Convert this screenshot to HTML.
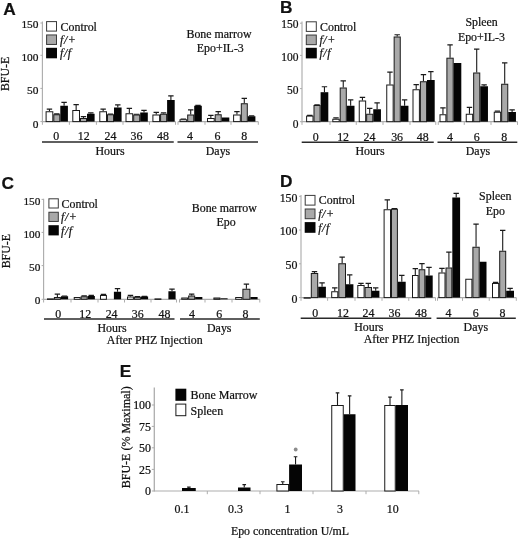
<!DOCTYPE html>
<html><head><meta charset="utf-8"><title>Figure</title>
<style>
html,body{margin:0;padding:0;background:#fff;}
body{width:520px;height:539px;overflow:hidden;}
svg{display:block;font-family:"Liberation Serif",serif;fill:#111;}
svg text{stroke:#111;stroke-width:0.22px;}
</style></head><body>
<svg width="520" height="539" viewBox="0 0 520 539">
<rect width="520" height="539" fill="#fff"/>
<g opacity="0.999">
<text x="3.2" y="14.5" font-family="Liberation Sans, sans-serif" font-weight="bold" font-size="17.3">A</text>
<line x1="42.4" x2="42.4" y1="21.4" y2="122.1" stroke="#adadad" stroke-width="1.15"/>
<line x1="40.4" x2="42.4" y1="23.0" y2="23.0" stroke="#adadad" stroke-width="1"/>
<text x="38.5" y="27.531932773109244" text-anchor="end" font-size="11.4" >150</text>
<line x1="40.4" x2="42.4" y1="55.3" y2="55.3" stroke="#adadad" stroke-width="1"/>
<text x="38.5" y="60.63193277310924" text-anchor="end" font-size="11.4" >100</text>
<line x1="40.4" x2="42.4" y1="88.4" y2="88.4" stroke="#adadad" stroke-width="1"/>
<text x="38.5" y="94.33193277310924" text-anchor="end" font-size="11.4" >50</text>
<line x1="40.4" x2="42.4" y1="121.6" y2="121.6" stroke="#adadad" stroke-width="1"/>
<text x="38.5" y="127.53193277310925" text-anchor="end" font-size="11.4" >0</text>
<line x1="42.4" x2="175.5" y1="121.6" y2="121.6" stroke="#adadad" stroke-width="1.2"/>
<line x1="178" x2="258.3" y1="121.6" y2="121.6" stroke="#adadad" stroke-width="1.2"/>
<line x1="42.4" x2="42.4" y1="121.6" y2="124.8" stroke="#adadad" stroke-width="1"/>
<line x1="69.4" x2="69.4" y1="121.6" y2="124.8" stroke="#adadad" stroke-width="1"/>
<line x1="96.4" x2="96.4" y1="121.6" y2="124.8" stroke="#adadad" stroke-width="1"/>
<line x1="123" x2="123" y1="121.6" y2="124.8" stroke="#adadad" stroke-width="1"/>
<line x1="149.5" x2="149.5" y1="121.6" y2="124.8" stroke="#adadad" stroke-width="1"/>
<line x1="175.5" x2="175.5" y1="121.6" y2="124.8" stroke="#adadad" stroke-width="1"/>
<line x1="178" x2="178" y1="121.6" y2="124.8" stroke="#adadad" stroke-width="1"/>
<line x1="205" x2="205" y1="121.6" y2="124.8" stroke="#adadad" stroke-width="1"/>
<line x1="231" x2="231" y1="121.6" y2="124.8" stroke="#adadad" stroke-width="1"/>
<line x1="258.3" x2="258.3" y1="121.6" y2="124.8" stroke="#adadad" stroke-width="1"/>
<rect x="46.1" y="111.75" width="6.700000000000003" height="9.849999999999994" fill="#fff" stroke="#1a1a1a" stroke-width="1"/>
<path d="M49.45 111.25V108.75M46.75 109.15H52.150000000000006" stroke="#1a1a1a" stroke-width="1.1" fill="none"/>
<rect x="53.800000000000004" y="114.75" width="6.0" height="6.849999999999994" fill="#a9a9a9" stroke="#1a1a1a" stroke-width="1"/>
<path d="M56.800000000000004 114.25V113.5M54.1 113.9H59.50000000000001" stroke="#1a1a1a" stroke-width="1.1" fill="none"/>
<rect x="60.300000000000004" y="105.75" width="7.600000000000001" height="15.849999999999994" fill="#050505"/>
<path d="M64.10000000000001 105.75V102M61.400000000000006 102.4H66.80000000000001" stroke="#1a1a1a" stroke-width="1.1" fill="none"/>
<rect x="72.8" y="110.5" width="6.700000000000003" height="11.099999999999994" fill="#fff" stroke="#1a1a1a" stroke-width="1"/>
<path d="M76.15 110V104.25M73.45 104.65H78.85000000000001" stroke="#1a1a1a" stroke-width="1.1" fill="none"/>
<rect x="80.5" y="118.5" width="6.0" height="3.0999999999999943" fill="#a9a9a9" stroke="#1a1a1a" stroke-width="1"/>
<path d="M83.5 118V116.25M80.8 116.65H86.2" stroke="#1a1a1a" stroke-width="1.1" fill="none"/>
<rect x="87.0" y="113.75" width="7.599999999999994" height="7.849999999999994" fill="#050505"/>
<path d="M90.8 113.75V112.5M88.1 112.9H93.5" stroke="#1a1a1a" stroke-width="1.1" fill="none"/>
<rect x="99.8" y="111.75" width="6.700000000000003" height="9.849999999999994" fill="#fff" stroke="#1a1a1a" stroke-width="1"/>
<path d="M103.15 111.25V108.75M100.45 109.15H105.85000000000001" stroke="#1a1a1a" stroke-width="1.1" fill="none"/>
<rect x="107.5" y="114.75" width="6.0" height="6.849999999999994" fill="#a9a9a9" stroke="#1a1a1a" stroke-width="1"/>
<path d="M110.5 114.25V113.6M107.8 114.0H113.2" stroke="#1a1a1a" stroke-width="1.1" fill="none"/>
<rect x="114.0" y="107.5" width="7.599999999999994" height="14.099999999999994" fill="#050505"/>
<path d="M117.8 107.5V104.5M115.1 104.9H120.5" stroke="#1a1a1a" stroke-width="1.1" fill="none"/>
<rect x="126.0" y="113.75" width="6.699999999999989" height="7.849999999999994" fill="#fff" stroke="#1a1a1a" stroke-width="1"/>
<path d="M129.35 113.25V108M126.64999999999999 108.4H132.04999999999998" stroke="#1a1a1a" stroke-width="1.1" fill="none"/>
<rect x="133.7" y="115.0" width="6.0" height="6.599999999999994" fill="#a9a9a9" stroke="#1a1a1a" stroke-width="1"/>
<path d="M136.7 114.5V113.8M134.0 114.2H139.39999999999998" stroke="#1a1a1a" stroke-width="1.1" fill="none"/>
<rect x="140.2" y="112.5" width="7.599999999999994" height="9.099999999999994" fill="#050505"/>
<path d="M144.0 112.5V110M141.3 110.4H146.7" stroke="#1a1a1a" stroke-width="1.1" fill="none"/>
<rect x="152.9" y="115.0" width="6.699999999999989" height="6.599999999999994" fill="#fff" stroke="#1a1a1a" stroke-width="1"/>
<path d="M156.25 114.5V112M153.55 112.4H158.95" stroke="#1a1a1a" stroke-width="1.1" fill="none"/>
<rect x="160.6" y="114.25" width="6.0" height="7.349999999999994" fill="#a9a9a9" stroke="#1a1a1a" stroke-width="1"/>
<path d="M163.6 113.75V112.5M160.9 112.9H166.29999999999998" stroke="#1a1a1a" stroke-width="1.1" fill="none"/>
<rect x="167.1" y="100" width="7.599999999999994" height="21.599999999999994" fill="#050505"/>
<path d="M170.89999999999998 100V95.5M168.2 95.9H173.59999999999997" stroke="#1a1a1a" stroke-width="1.1" fill="none"/>
<rect x="180.0" y="119.75" width="6.699999999999989" height="1.8499999999999943" fill="#fff" stroke="#1a1a1a" stroke-width="1"/>
<path d="M183.35 119.25V118.6M180.65 119.0H186.04999999999998" stroke="#1a1a1a" stroke-width="1.1" fill="none"/>
<rect x="187.7" y="115.0" width="6.0" height="6.599999999999994" fill="#a9a9a9" stroke="#1a1a1a" stroke-width="1"/>
<path d="M190.7 114.5V109.5M188.0 109.9H193.39999999999998" stroke="#1a1a1a" stroke-width="1.1" fill="none"/>
<rect x="194.2" y="105.75" width="7.599999999999994" height="15.849999999999994" fill="#050505"/>
<path d="M198.0 105.75V105M195.3 105.4H200.7" stroke="#1a1a1a" stroke-width="1.1" fill="none"/>
<rect x="207.5" y="118.5" width="6.699999999999989" height="3.0999999999999943" fill="#fff" stroke="#1a1a1a" stroke-width="1"/>
<path d="M210.85 118V115M208.15 115.4H213.54999999999998" stroke="#1a1a1a" stroke-width="1.1" fill="none"/>
<rect x="215.2" y="114.75" width="6.0" height="6.849999999999994" fill="#a9a9a9" stroke="#1a1a1a" stroke-width="1"/>
<path d="M218.2 114.25V111.25M215.5 111.65H220.89999999999998" stroke="#1a1a1a" stroke-width="1.1" fill="none"/>
<rect x="221.7" y="117.5" width="7.599999999999994" height="4.099999999999994" fill="#050505"/>
<rect x="233.6" y="115.0" width="6.699999999999989" height="6.599999999999994" fill="#fff" stroke="#1a1a1a" stroke-width="1"/>
<path d="M236.95 114.5V111.25M234.25 111.65H239.64999999999998" stroke="#1a1a1a" stroke-width="1.1" fill="none"/>
<rect x="241.29999999999998" y="103.75" width="6.0" height="17.849999999999994" fill="#a9a9a9" stroke="#1a1a1a" stroke-width="1"/>
<path d="M244.29999999999998 103.25V98M241.6 98.4H246.99999999999997" stroke="#1a1a1a" stroke-width="1.1" fill="none"/>
<rect x="247.79999999999998" y="116.25" width="7.599999999999994" height="5.349999999999994" fill="#050505"/>
<path d="M251.59999999999997 116.25V115.5M248.89999999999998 115.9H254.29999999999995" stroke="#1a1a1a" stroke-width="1.1" fill="none"/>
<text x="56.3" y="140.4" text-anchor="middle" font-size="11.9" >0</text>
<text x="83.7" y="140.4" text-anchor="middle" font-size="11.9" >12</text>
<text x="110.5" y="140.4" text-anchor="middle" font-size="11.9" >24</text>
<text x="136.5" y="140.4" text-anchor="middle" font-size="11.9" >36</text>
<text x="163" y="140.4" text-anchor="middle" font-size="11.9" >48</text>
<text x="190.1" y="140.4" text-anchor="middle" font-size="11.9" >4</text>
<text x="217.6" y="140.4" text-anchor="middle" font-size="11.9" >6</text>
<text x="244.2" y="140.4" text-anchor="middle" font-size="11.9" >8</text>
<line x1="42" x2="173.75" y1="141.9" y2="141.9" stroke="#2a2a2a" stroke-width="1.5"/>
<line x1="177.5" x2="258" y1="141.9" y2="141.9" stroke="#2a2a2a" stroke-width="1.5"/>
<text x="110" y="154.5" text-anchor="middle" font-size="11.9" >Hours</text>
<text x="218" y="154.5" text-anchor="middle" font-size="11.9" >Days</text>
<rect x="46.6" y="21.6" width="9.9" height="9.5" fill="#fff" stroke="#3a3a3a" stroke-width="1"/>
<text x="60.6" y="30.55" text-anchor="start" font-size="11.9" >Control</text>
<rect x="46.6" y="34.95" width="9.9" height="9.5" fill="#a9a9a9" stroke="#3a3a3a" stroke-width="1"/>
<text x="60.6" y="43.900000000000006" text-anchor="start" font-size="11.9" ><tspan font-style='italic' letter-spacing='0.6' dx='-0.6'>f/+</tspan></text>
<rect x="46.1" y="47.8" width="10.9" height="10.5" fill="#050505"/>
<text x="60.6" y="57.25" text-anchor="start" font-size="11.9" ><tspan font-style='italic' letter-spacing='0.6' dx='-0.6'>f/f</tspan></text>
<text x="219" y="38.3" text-anchor="middle" font-size="11.9" >Bone marrow</text>
<text x="220.3" y="52.1" text-anchor="middle" font-size="11.9" >Epo+IL-3</text>
<text transform="translate(9.2,73.9) rotate(-90)" text-anchor="middle" font-size="11.9">BFU-E</text>
<text x="279.9" y="13.1" font-family="Liberation Sans, sans-serif" font-weight="bold" font-size="17.3">B</text>
<line x1="302" x2="302" y1="21.4" y2="122.2" stroke="#adadad" stroke-width="1.15"/>
<line x1="300" x2="302" y1="23.2" y2="23.2" stroke="#adadad" stroke-width="1"/>
<text x="298.4" y="28.065546218487395" text-anchor="end" font-size="11.5" >150</text>
<line x1="300" x2="302" y1="55.4" y2="55.4" stroke="#adadad" stroke-width="1"/>
<text x="298.4" y="60.5655462184874" text-anchor="end" font-size="11.5" >100</text>
<line x1="300" x2="302" y1="88.6" y2="88.6" stroke="#adadad" stroke-width="1"/>
<text x="298.4" y="94.3655462184874" text-anchor="end" font-size="11.5" >50</text>
<line x1="300" x2="302" y1="121.7" y2="121.7" stroke="#adadad" stroke-width="1"/>
<text x="298.4" y="127.5655462184874" text-anchor="end" font-size="11.5" >0</text>
<line x1="302" x2="435.75" y1="121.7" y2="121.7" stroke="#adadad" stroke-width="1.2"/>
<line x1="438.25" x2="517.5" y1="121.7" y2="121.7" stroke="#adadad" stroke-width="1.2"/>
<line x1="302" x2="302" y1="121.7" y2="124.9" stroke="#adadad" stroke-width="1"/>
<line x1="330" x2="330" y1="121.7" y2="124.9" stroke="#adadad" stroke-width="1"/>
<line x1="356.25" x2="356.25" y1="121.7" y2="124.9" stroke="#adadad" stroke-width="1"/>
<line x1="383" x2="383" y1="121.7" y2="124.9" stroke="#adadad" stroke-width="1"/>
<line x1="410" x2="410" y1="121.7" y2="124.9" stroke="#adadad" stroke-width="1"/>
<line x1="435.75" x2="435.75" y1="121.7" y2="124.9" stroke="#adadad" stroke-width="1"/>
<line x1="438.25" x2="438.25" y1="121.7" y2="124.9" stroke="#adadad" stroke-width="1"/>
<line x1="464.25" x2="464.25" y1="121.7" y2="124.9" stroke="#adadad" stroke-width="1"/>
<line x1="491" x2="491" y1="121.7" y2="124.9" stroke="#adadad" stroke-width="1"/>
<line x1="517.5" x2="517.5" y1="121.7" y2="124.9" stroke="#adadad" stroke-width="1"/>
<rect x="306.6" y="116.1" width="6.399999999999977" height="5.6000000000000085" fill="#fff" stroke="#1a1a1a" stroke-width="1"/>
<path d="M309.8 115.6V115.0M307.1 115.4H312.5" stroke="#1a1a1a" stroke-width="1.1" fill="none"/>
<rect x="314.0" y="105.5" width="6.100000000000023" height="16.200000000000003" fill="#a9a9a9" stroke="#1a1a1a" stroke-width="1"/>
<path d="M317.05 105V104.4M314.35 104.80000000000001H319.75" stroke="#1a1a1a" stroke-width="1.1" fill="none"/>
<rect x="320.6" y="92.2" width="7.699999999999989" height="29.5" fill="#050505"/>
<path d="M324.45000000000005 92.2V86.4M321.75000000000006 86.80000000000001H327.15000000000003" stroke="#1a1a1a" stroke-width="1.1" fill="none"/>
<rect x="332.8" y="119.25" width="6.399999999999977" height="2.450000000000003" fill="#fff" stroke="#1a1a1a" stroke-width="1"/>
<path d="M336.0 118.75V117.5M333.3 117.9H338.7" stroke="#1a1a1a" stroke-width="1.1" fill="none"/>
<rect x="340.2" y="88.0" width="6.100000000000023" height="33.7" fill="#a9a9a9" stroke="#1a1a1a" stroke-width="1"/>
<path d="M343.25 87.5V80.5M340.55 80.9H345.95" stroke="#1a1a1a" stroke-width="1.1" fill="none"/>
<rect x="346.8" y="105.75" width="7.699999999999989" height="15.950000000000003" fill="#050505"/>
<path d="M350.65 105.75V99.5M347.95 99.9H353.34999999999997" stroke="#1a1a1a" stroke-width="1.1" fill="none"/>
<rect x="359.25" y="101.0" width="6.399999999999977" height="20.700000000000003" fill="#fff" stroke="#1a1a1a" stroke-width="1"/>
<path d="M362.45 100.5V97M359.75 97.4H365.15" stroke="#1a1a1a" stroke-width="1.1" fill="none"/>
<rect x="366.65" y="114.25" width="6.100000000000023" height="7.450000000000003" fill="#a9a9a9" stroke="#1a1a1a" stroke-width="1"/>
<path d="M369.7 113.75V108M367.0 108.4H372.4" stroke="#1a1a1a" stroke-width="1.1" fill="none"/>
<rect x="373.25" y="109.25" width="7.699999999999989" height="12.450000000000003" fill="#050505"/>
<path d="M377.1 109.25V102.5M374.40000000000003 102.9H379.8" stroke="#1a1a1a" stroke-width="1.1" fill="none"/>
<rect x="386.75" y="85.0" width="6.399999999999977" height="36.7" fill="#fff" stroke="#1a1a1a" stroke-width="1"/>
<path d="M389.95 84.5V71.75M387.25 72.15H392.65" stroke="#1a1a1a" stroke-width="1.1" fill="none"/>
<rect x="394.15" y="37.0" width="6.100000000000023" height="84.7" fill="#a9a9a9" stroke="#1a1a1a" stroke-width="1"/>
<path d="M397.2 36.5V34.3M394.5 34.699999999999996H399.9" stroke="#1a1a1a" stroke-width="1.1" fill="none"/>
<rect x="400.75" y="105.75" width="7.699999999999989" height="15.950000000000003" fill="#050505"/>
<path d="M404.6 105.75V99.5M401.90000000000003 99.9H407.3" stroke="#1a1a1a" stroke-width="1.1" fill="none"/>
<rect x="413.0" y="89.75" width="6.399999999999977" height="31.950000000000003" fill="#fff" stroke="#1a1a1a" stroke-width="1"/>
<path d="M416.2 89.25V84.25M413.5 84.65H418.9" stroke="#1a1a1a" stroke-width="1.1" fill="none"/>
<rect x="420.4" y="81.75" width="6.100000000000023" height="39.95" fill="#a9a9a9" stroke="#1a1a1a" stroke-width="1"/>
<path d="M423.45 81.25V74.25M420.75 74.65H426.15" stroke="#1a1a1a" stroke-width="1.1" fill="none"/>
<rect x="427.0" y="80" width="7.699999999999989" height="41.7" fill="#050505"/>
<path d="M430.85 80V71.25M428.15000000000003 71.65H433.55" stroke="#1a1a1a" stroke-width="1.1" fill="none"/>
<rect x="440.0" y="114.75" width="5.899999999999977" height="6.950000000000003" fill="#fff" stroke="#1a1a1a" stroke-width="1"/>
<path d="M442.95 114.25V107.5M440.25 107.9H445.65" stroke="#1a1a1a" stroke-width="1.1" fill="none"/>
<rect x="446.9" y="58.2" width="6.300000000000011" height="63.5" fill="#a9a9a9" stroke="#1a1a1a" stroke-width="1"/>
<path d="M450.04999999999995 57.7V44.5M447.34999999999997 44.9H452.74999999999994" stroke="#1a1a1a" stroke-width="1.1" fill="none"/>
<rect x="453.7" y="63" width="7.600000000000023" height="58.7" fill="#050505"/>
<rect x="466.25" y="114.25" width="6.399999999999977" height="7.450000000000003" fill="#fff" stroke="#1a1a1a" stroke-width="1"/>
<path d="M469.45 113.75V107M466.75 107.4H472.15" stroke="#1a1a1a" stroke-width="1.1" fill="none"/>
<rect x="473.65" y="73.0" width="6.100000000000023" height="48.7" fill="#a9a9a9" stroke="#1a1a1a" stroke-width="1"/>
<path d="M476.7 72.5V48.75M474.0 49.15H479.4" stroke="#1a1a1a" stroke-width="1.1" fill="none"/>
<rect x="480.25" y="86.25" width="7.699999999999989" height="35.45" fill="#050505"/>
<path d="M484.1 86.25V84.5M481.40000000000003 84.9H486.8" stroke="#1a1a1a" stroke-width="1.1" fill="none"/>
<rect x="494.25" y="112.25" width="6.399999999999977" height="9.450000000000003" fill="#fff" stroke="#1a1a1a" stroke-width="1"/>
<path d="M497.45 111.75V110.75M494.75 111.15H500.15" stroke="#1a1a1a" stroke-width="1.1" fill="none"/>
<rect x="501.65" y="84.25" width="6.100000000000023" height="37.45" fill="#a9a9a9" stroke="#1a1a1a" stroke-width="1"/>
<path d="M504.7 83.75V62.5M502.0 62.9H507.4" stroke="#1a1a1a" stroke-width="1.1" fill="none"/>
<rect x="508.25" y="112" width="7.7000000000000455" height="9.700000000000003" fill="#050505"/>
<path d="M512.1 112V109.5M509.40000000000003 109.9H514.8000000000001" stroke="#1a1a1a" stroke-width="1.1" fill="none"/>
<text x="315.7" y="140.8" text-anchor="middle" font-size="11.9" >0</text>
<text x="343.1" y="140.8" text-anchor="middle" font-size="11.9" >12</text>
<text x="369.5" y="140.8" text-anchor="middle" font-size="11.9" >24</text>
<text x="397.1" y="140.8" text-anchor="middle" font-size="11.9" >36</text>
<text x="422.7" y="140.8" text-anchor="middle" font-size="11.9" >48</text>
<text x="450" y="140.8" text-anchor="middle" font-size="11.9" >4</text>
<text x="476.8" y="140.8" text-anchor="middle" font-size="11.9" >6</text>
<text x="504.2" y="140.8" text-anchor="middle" font-size="11.9" >8</text>
<line x1="301.7" x2="433.75" y1="142.2" y2="142.2" stroke="#2a2a2a" stroke-width="1.5"/>
<line x1="437.5" x2="517.3" y1="142.2" y2="142.2" stroke="#2a2a2a" stroke-width="1.5"/>
<text x="370" y="155" text-anchor="middle" font-size="11.9" >Hours</text>
<text x="478" y="155" text-anchor="middle" font-size="11.9" >Days</text>
<rect x="306.3" y="21.8" width="10.0" height="9.6" fill="#fff" stroke="#3a3a3a" stroke-width="1"/>
<text x="320" y="30.8" text-anchor="start" font-size="11.9" >Control</text>
<rect x="306.3" y="35.05" width="10.0" height="9.6" fill="#a9a9a9" stroke="#3a3a3a" stroke-width="1"/>
<text x="320" y="44.05" text-anchor="start" font-size="11.9" ><tspan font-style='italic' letter-spacing='0.6' dx='-0.6'>f/+</tspan></text>
<rect x="305.8" y="47.8" width="11.0" height="10.6" fill="#050505"/>
<text x="320" y="57.3" text-anchor="start" font-size="11.9" ><tspan font-style='italic' letter-spacing='0.6' dx='-0.6'>f/f</tspan></text>
<text x="481.6" y="25.7" text-anchor="middle" font-size="11.9" >Spleen</text>
<text x="481.4" y="40.5" text-anchor="middle" font-size="11.9" >Epo+IL-3</text>
<text transform="translate(-100,-100) rotate(-90)" text-anchor="middle" font-size="11.9">BFU-E</text>
<text x="1.6" y="188.6" font-family="Liberation Sans, sans-serif" font-weight="bold" font-size="17.3">C</text>
<line x1="43.6" x2="43.6" y1="198.7" y2="299.8" stroke="#adadad" stroke-width="1.15"/>
<line x1="41.6" x2="43.6" y1="199.4" y2="199.4" stroke="#adadad" stroke-width="1"/>
<text x="40.4" y="204.5983193277311" text-anchor="end" font-size="11.3" >150</text>
<line x1="41.6" x2="43.6" y1="232.4" y2="232.4" stroke="#adadad" stroke-width="1"/>
<text x="40.4" y="237.7983193277311" text-anchor="end" font-size="11.3" >100</text>
<line x1="41.6" x2="43.6" y1="265.6" y2="265.6" stroke="#adadad" stroke-width="1"/>
<text x="40.4" y="271.19831932773104" text-anchor="end" font-size="11.3" >50</text>
<line x1="41.6" x2="43.6" y1="299.3" y2="299.3" stroke="#adadad" stroke-width="1"/>
<text x="40.4" y="304.49831932773105" text-anchor="end" font-size="11.3" >0</text>
<line x1="43.6" x2="176.5" y1="299.3" y2="299.3" stroke="#adadad" stroke-width="1.2"/>
<line x1="179.5" x2="259.8" y1="299.3" y2="299.3" stroke="#adadad" stroke-width="1.2"/>
<line x1="43.6" x2="43.6" y1="299.3" y2="302.5" stroke="#adadad" stroke-width="1"/>
<line x1="71" x2="71" y1="299.3" y2="302.5" stroke="#adadad" stroke-width="1"/>
<line x1="98" x2="98" y1="299.3" y2="302.5" stroke="#adadad" stroke-width="1"/>
<line x1="124.5" x2="124.5" y1="299.3" y2="302.5" stroke="#adadad" stroke-width="1"/>
<line x1="151" x2="151" y1="299.3" y2="302.5" stroke="#adadad" stroke-width="1"/>
<line x1="176.5" x2="176.5" y1="299.3" y2="302.5" stroke="#adadad" stroke-width="1"/>
<line x1="179.5" x2="179.5" y1="299.3" y2="302.5" stroke="#adadad" stroke-width="1"/>
<line x1="205" x2="205" y1="299.3" y2="302.5" stroke="#adadad" stroke-width="1"/>
<line x1="232" x2="232" y1="299.3" y2="302.5" stroke="#adadad" stroke-width="1"/>
<line x1="259.8" x2="259.8" y1="299.3" y2="302.5" stroke="#adadad" stroke-width="1"/>
<rect x="47.5" y="298.9" width="5.899999999999999" height="0.5" fill="#fff" stroke="#1a1a1a" stroke-width="1"/>
<rect x="54.4" y="297.5" width="6.0" height="1.8000000000000114" fill="#a9a9a9" stroke="#1a1a1a" stroke-width="1"/>
<path d="M57.4 297V293.75M54.699999999999996 294.15H60.1" stroke="#1a1a1a" stroke-width="1.1" fill="none"/>
<rect x="60.9" y="296.25" width="7.199999999999996" height="3.0500000000000114" fill="#050505"/>
<path d="M64.5 296.25V295.6M61.8 296.0H67.2" stroke="#1a1a1a" stroke-width="1.1" fill="none"/>
<rect x="74.25" y="297.5" width="5.900000000000006" height="1.8000000000000114" fill="#fff" stroke="#1a1a1a" stroke-width="1"/>
<rect x="81.15" y="296.75" width="6.0" height="2.5500000000000114" fill="#a9a9a9" stroke="#1a1a1a" stroke-width="1"/>
<path d="M84.15 296.25V295.3M81.45 295.7H86.85000000000001" stroke="#1a1a1a" stroke-width="1.1" fill="none"/>
<rect x="87.65" y="296" width="7.200000000000003" height="3.3000000000000114" fill="#050505"/>
<path d="M91.25 296V295M88.55 295.4H93.95" stroke="#1a1a1a" stroke-width="1.1" fill="none"/>
<rect x="100.5" y="295.5" width="5.900000000000006" height="3.8000000000000114" fill="#fff" stroke="#1a1a1a" stroke-width="1"/>
<path d="M103.45 295V294M100.75 294.4H106.15" stroke="#1a1a1a" stroke-width="1.1" fill="none"/>
<rect x="113.9" y="291.75" width="7.200000000000003" height="7.550000000000011" fill="#050505"/>
<path d="M117.5 291.75V288.25M114.8 288.65H120.2" stroke="#1a1a1a" stroke-width="1.1" fill="none"/>
<rect x="127.5" y="297.0" width="5.900000000000006" height="2.3000000000000114" fill="#fff" stroke="#1a1a1a" stroke-width="1"/>
<path d="M130.45 296.5V295M127.74999999999999 295.4H133.14999999999998" stroke="#1a1a1a" stroke-width="1.1" fill="none"/>
<rect x="134.4" y="297.25" width="6.0" height="2.0500000000000114" fill="#a9a9a9" stroke="#1a1a1a" stroke-width="1"/>
<path d="M137.4 296.75V296.2M134.70000000000002 296.59999999999997H140.1" stroke="#1a1a1a" stroke-width="1.1" fill="none"/>
<rect x="140.9" y="296.5" width="7.199999999999989" height="2.8000000000000114" fill="#050505"/>
<path d="M144.5 296.5V296M141.8 296.4H147.2" stroke="#1a1a1a" stroke-width="1.1" fill="none"/>
<rect x="155.0" y="298.9" width="5.900000000000006" height="0.5" fill="#fff" stroke="#1a1a1a" stroke-width="1"/>
<rect x="168.4" y="291.25" width="7.199999999999989" height="8.050000000000011" fill="#050505"/>
<path d="M172.0 291.25V288.75M169.3 289.15H174.7" stroke="#1a1a1a" stroke-width="1.1" fill="none"/>
<rect x="181.75" y="298.0" width="5.900000000000006" height="1.3000000000000114" fill="#fff" stroke="#1a1a1a" stroke-width="1"/>
<rect x="188.65" y="296.0" width="6.0" height="3.3000000000000114" fill="#a9a9a9" stroke="#1a1a1a" stroke-width="1"/>
<path d="M191.65 295.5V293.75M188.95000000000002 294.15H194.35" stroke="#1a1a1a" stroke-width="1.1" fill="none"/>
<rect x="195.15" y="297" width="7.199999999999989" height="2.3000000000000114" fill="#050505"/>
<rect x="213.9" y="298.0" width="6.0" height="1.3000000000000114" fill="#a9a9a9" stroke="#1a1a1a" stroke-width="1"/>
<rect x="220.4" y="298.3" width="7.199999999999989" height="1.0" fill="#050505"/>
<rect x="235.7" y="297.5" width="6.200000000000017" height="1.8000000000000114" fill="#fff" stroke="#1a1a1a" stroke-width="1"/>
<rect x="242.9" y="289.25" width="7.0" height="10.050000000000011" fill="#a9a9a9" stroke="#1a1a1a" stroke-width="1"/>
<path d="M246.4 288.75V283.75M243.70000000000002 284.15H249.1" stroke="#1a1a1a" stroke-width="1.1" fill="none"/>
<rect x="250.4" y="297" width="7.200000000000017" height="2.3000000000000114" fill="#050505"/>
<text x="58.3" y="317.6" text-anchor="middle" font-size="11.9" >0</text>
<text x="85.2" y="317.6" text-anchor="middle" font-size="11.9" >12</text>
<text x="111.6" y="317.6" text-anchor="middle" font-size="11.9" >24</text>
<text x="137.7" y="317.6" text-anchor="middle" font-size="11.9" >36</text>
<text x="164.5" y="317.6" text-anchor="middle" font-size="11.9" >48</text>
<text x="192" y="317.6" text-anchor="middle" font-size="11.9" >4</text>
<text x="219.25" y="317.6" text-anchor="middle" font-size="11.9" >6</text>
<text x="245.5" y="317.6" text-anchor="middle" font-size="11.9" >8</text>
<line x1="44" x2="174.5" y1="319.0" y2="319.0" stroke="#2a2a2a" stroke-width="1.5"/>
<line x1="180" x2="259.8" y1="319.0" y2="319.0" stroke="#2a2a2a" stroke-width="1.5"/>
<text x="112" y="331.5" text-anchor="middle" font-size="11.9" >Hours</text>
<text x="219.25" y="331.5" text-anchor="middle" font-size="11.9" >Days</text>
<text x="154.75" y="344.1" text-anchor="middle" font-size="11.9" >After PHZ Injection</text>
<rect x="48.9" y="198.8" width="9.4" height="9.2" fill="#fff" stroke="#3a3a3a" stroke-width="1"/>
<text x="61.6" y="207.6" text-anchor="start" font-size="11.9" >Control</text>
<rect x="48.9" y="212.25" width="9.4" height="9.2" fill="#a9a9a9" stroke="#3a3a3a" stroke-width="1"/>
<text x="61.6" y="221.04999999999998" text-anchor="start" font-size="11.9" ><tspan font-style='italic' letter-spacing='0.6' dx='-0.6'>f/+</tspan></text>
<rect x="48.4" y="225.20000000000002" width="10.4" height="10.2" fill="#050505"/>
<text x="61.6" y="234.5" text-anchor="start" font-size="11.9" ><tspan font-style='italic' letter-spacing='0.6' dx='-0.6'>f/f</tspan></text>
<text x="224.3" y="211.7" text-anchor="middle" font-size="11.9" >Bone marrow</text>
<text x="226.2" y="226.1" text-anchor="middle" font-size="11.9" >Epo</text>
<text transform="translate(9.5,251.2) rotate(-90)" text-anchor="middle" font-size="11.9">BFU-E</text>
<text x="280.1" y="187.3" font-family="Liberation Sans, sans-serif" font-weight="bold" font-size="17.3">D</text>
<line x1="301" x2="301" y1="195" y2="298.1" stroke="#adadad" stroke-width="1.15"/>
<line x1="299" x2="301" y1="196.3" y2="196.3" stroke="#adadad" stroke-width="1"/>
<text x="297.5" y="201.5" text-anchor="end" font-size="11.9" >150</text>
<line x1="299" x2="301" y1="230" y2="230" stroke="#adadad" stroke-width="1"/>
<text x="297.5" y="235.2" text-anchor="end" font-size="11.9" >100</text>
<line x1="299" x2="301" y1="263.8" y2="263.8" stroke="#adadad" stroke-width="1"/>
<text x="297.5" y="269.3" text-anchor="end" font-size="11.9" >50</text>
<line x1="299" x2="301" y1="297.6" y2="297.6" stroke="#adadad" stroke-width="1"/>
<text x="297.5" y="303.0" text-anchor="end" font-size="11.9" >0</text>
<line x1="301" x2="435.5" y1="297.6" y2="297.6" stroke="#adadad" stroke-width="1.2"/>
<line x1="437.5" x2="516.3" y1="297.6" y2="297.6" stroke="#adadad" stroke-width="1.2"/>
<line x1="301" x2="301" y1="297.6" y2="300.8" stroke="#adadad" stroke-width="1"/>
<line x1="327.6" x2="327.6" y1="297.6" y2="300.8" stroke="#adadad" stroke-width="1"/>
<line x1="355" x2="355" y1="297.6" y2="300.8" stroke="#adadad" stroke-width="1"/>
<line x1="382" x2="382" y1="297.6" y2="300.8" stroke="#adadad" stroke-width="1"/>
<line x1="408.75" x2="408.75" y1="297.6" y2="300.8" stroke="#adadad" stroke-width="1"/>
<line x1="435.5" x2="435.5" y1="297.6" y2="300.8" stroke="#adadad" stroke-width="1"/>
<line x1="437.5" x2="437.5" y1="297.6" y2="300.8" stroke="#adadad" stroke-width="1"/>
<line x1="462.5" x2="462.5" y1="297.6" y2="300.8" stroke="#adadad" stroke-width="1"/>
<line x1="489.25" x2="489.25" y1="297.6" y2="300.8" stroke="#adadad" stroke-width="1"/>
<line x1="516.3" x2="516.3" y1="297.6" y2="300.8" stroke="#adadad" stroke-width="1"/>
<rect x="304.1" y="297.7" width="6.199999999999989" height="0.5" fill="#fff" stroke="#1a1a1a" stroke-width="1"/>
<rect x="311.3" y="273.5" width="6.399999999999977" height="24.100000000000023" fill="#a9a9a9" stroke="#1a1a1a" stroke-width="1"/>
<path d="M314.5 273V271.25M311.8 271.65H317.2" stroke="#1a1a1a" stroke-width="1.1" fill="none"/>
<rect x="318.2" y="286.75" width="7.699999999999989" height="10.850000000000023" fill="#050505"/>
<path d="M322.04999999999995 286.75V282.5M319.34999999999997 282.9H324.74999999999994" stroke="#1a1a1a" stroke-width="1.1" fill="none"/>
<rect x="331.7" y="291.75" width="6.100000000000023" height="5.850000000000023" fill="#fff" stroke="#1a1a1a" stroke-width="1"/>
<path d="M334.75 291.25V287.5M332.05 287.9H337.45" stroke="#1a1a1a" stroke-width="1.1" fill="none"/>
<rect x="338.8" y="263.75" width="6.699999999999989" height="33.85000000000002" fill="#a9a9a9" stroke="#1a1a1a" stroke-width="1"/>
<path d="M342.15 263.25V256.75M339.45 257.15H344.84999999999997" stroke="#1a1a1a" stroke-width="1.1" fill="none"/>
<rect x="346" y="284.25" width="7.399999999999977" height="13.350000000000023" fill="#050505"/>
<path d="M349.7 284.25V274.5M347.0 274.9H352.4" stroke="#1a1a1a" stroke-width="1.1" fill="none"/>
<rect x="357.8" y="285.5" width="6.300000000000011" height="12.100000000000023" fill="#fff" stroke="#1a1a1a" stroke-width="1"/>
<path d="M360.95000000000005 285V283M358.25000000000006 283.4H363.65000000000003" stroke="#1a1a1a" stroke-width="1.1" fill="none"/>
<rect x="365.1" y="287.5" width="6.399999999999977" height="10.100000000000023" fill="#a9a9a9" stroke="#1a1a1a" stroke-width="1"/>
<path d="M368.3 287V283M365.6 283.4H371.0" stroke="#1a1a1a" stroke-width="1.1" fill="none"/>
<rect x="372" y="290.75" width="7.399999999999977" height="6.850000000000023" fill="#050505"/>
<path d="M375.7 290.75V287.5M373.0 287.9H378.4" stroke="#1a1a1a" stroke-width="1.1" fill="none"/>
<rect x="384.1" y="209.75" width="6.399999999999977" height="87.85000000000002" fill="#fff" stroke="#1a1a1a" stroke-width="1"/>
<path d="M387.3 209.25V199.5M384.6 199.9H390.0" stroke="#1a1a1a" stroke-width="1.1" fill="none"/>
<rect x="391.5" y="209.25" width="5.899999999999977" height="88.35000000000002" fill="#a9a9a9" stroke="#1a1a1a" stroke-width="1"/>
<path d="M394.45 208.75V208.2M391.75 208.6H397.15" stroke="#1a1a1a" stroke-width="1.1" fill="none"/>
<rect x="397.9" y="281.75" width="7.800000000000011" height="15.850000000000023" fill="#050505"/>
<path d="M401.79999999999995 281.75V275M399.09999999999997 275.4H404.49999999999994" stroke="#1a1a1a" stroke-width="1.1" fill="none"/>
<rect x="412.5" y="275.5" width="5.600000000000023" height="22.100000000000023" fill="#fff" stroke="#1a1a1a" stroke-width="1"/>
<path d="M415.3 275V268.25M412.6 268.65H418.0" stroke="#1a1a1a" stroke-width="1.1" fill="none"/>
<rect x="419.1" y="269.75" width="5.699999999999989" height="27.850000000000023" fill="#a9a9a9" stroke="#1a1a1a" stroke-width="1"/>
<path d="M421.95000000000005 269.25V263.25M419.25000000000006 263.65H424.65000000000003" stroke="#1a1a1a" stroke-width="1.1" fill="none"/>
<rect x="425.3" y="275.5" width="7.399999999999977" height="22.100000000000023" fill="#050505"/>
<path d="M429.0 275.5V267M426.3 267.4H431.7" stroke="#1a1a1a" stroke-width="1.1" fill="none"/>
<rect x="438.9" y="273.0" width="6.100000000000023" height="24.600000000000023" fill="#fff" stroke="#1a1a1a" stroke-width="1"/>
<path d="M441.95 272.5V268M439.25 268.4H444.65" stroke="#1a1a1a" stroke-width="1.1" fill="none"/>
<rect x="446.0" y="268.0" width="5.800000000000011" height="29.600000000000023" fill="#a9a9a9" stroke="#1a1a1a" stroke-width="1"/>
<path d="M448.9 267.5V251.75M446.2 252.15H451.59999999999997" stroke="#1a1a1a" stroke-width="1.1" fill="none"/>
<rect x="452.3" y="197.5" width="7.800000000000011" height="100.10000000000002" fill="#050505"/>
<path d="M456.20000000000005 197.5V193M453.50000000000006 193.4H458.90000000000003" stroke="#1a1a1a" stroke-width="1.1" fill="none"/>
<rect x="465.8" y="279.25" width="6.099999999999966" height="18.350000000000023" fill="#fff" stroke="#1a1a1a" stroke-width="1"/>
<rect x="472.9" y="247.25" width="6.300000000000011" height="50.35000000000002" fill="#a9a9a9" stroke="#1a1a1a" stroke-width="1"/>
<path d="M476.04999999999995 246.75V223.75M473.34999999999997 224.15H478.74999999999994" stroke="#1a1a1a" stroke-width="1.1" fill="none"/>
<rect x="479.7" y="261.75" width="6.800000000000011" height="35.85000000000002" fill="#050505"/>
<rect x="492.5" y="283.5" width="6.199999999999989" height="14.100000000000023" fill="#fff" stroke="#1a1a1a" stroke-width="1"/>
<path d="M495.6 283V282M492.90000000000003 282.4H498.3" stroke="#1a1a1a" stroke-width="1.1" fill="none"/>
<rect x="499.7" y="251.25" width="6.0" height="46.35000000000002" fill="#a9a9a9" stroke="#1a1a1a" stroke-width="1"/>
<path d="M502.7 250.75V230M500.0 230.4H505.4" stroke="#1a1a1a" stroke-width="1.1" fill="none"/>
<rect x="506.2" y="290.75" width="7.800000000000011" height="6.850000000000023" fill="#050505"/>
<path d="M510.1 290.75V288M507.40000000000003 288.4H512.8000000000001" stroke="#1a1a1a" stroke-width="1.1" fill="none"/>
<text x="315.2" y="316.7" text-anchor="middle" font-size="11.9" >0</text>
<text x="343" y="316.7" text-anchor="middle" font-size="11.9" >12</text>
<text x="368.5" y="316.7" text-anchor="middle" font-size="11.9" >24</text>
<text x="394.5" y="316.7" text-anchor="middle" font-size="11.9" >36</text>
<text x="421" y="316.7" text-anchor="middle" font-size="11.9" >48</text>
<text x="448.4" y="316.7" text-anchor="middle" font-size="11.9" >4</text>
<text x="475.8" y="316.7" text-anchor="middle" font-size="11.9" >6</text>
<text x="502.4" y="316.7" text-anchor="middle" font-size="11.9" >8</text>
<line x1="300.7" x2="431.3" y1="318.2" y2="318.2" stroke="#2a2a2a" stroke-width="1.5"/>
<line x1="436.6" x2="515.8" y1="318.2" y2="318.2" stroke="#2a2a2a" stroke-width="1.5"/>
<text x="368.8" y="330.7" text-anchor="middle" font-size="11.9" >Hours</text>
<text x="475.8" y="330.7" text-anchor="middle" font-size="11.9" >Days</text>
<text x="411.6" y="343.2" text-anchor="middle" font-size="11.9" >After PHZ Injection</text>
<rect x="305.2" y="195.4" width="9.8" height="9.7" fill="#fff" stroke="#3a3a3a" stroke-width="1"/>
<text x="318.75" y="204.45" text-anchor="start" font-size="11.9" >Control</text>
<rect x="305.2" y="209.0" width="9.8" height="9.7" fill="#a9a9a9" stroke="#3a3a3a" stroke-width="1"/>
<text x="318.75" y="218.04999999999998" text-anchor="start" font-size="11.9" ><tspan font-style='italic' letter-spacing='0.6' dx='-0.6'>f/+</tspan></text>
<rect x="304.7" y="222.1" width="10.8" height="10.7" fill="#050505"/>
<text x="318.75" y="231.64999999999998" text-anchor="start" font-size="11.9" ><tspan font-style='italic' letter-spacing='0.6' dx='-0.6'>f/f</tspan></text>
<text x="495.3" y="200.3" text-anchor="middle" font-size="11.9" >Spleen</text>
<text x="495.4" y="215.2" text-anchor="middle" font-size="11.9" >Epo</text>
<text transform="translate(-100,-100) rotate(-90)" text-anchor="middle" font-size="11.9">BFU-E</text>
<text x="119.8" y="377.1" font-family="Liberation Sans, sans-serif" font-weight="bold" font-size="17.3">E</text>
<line x1="154.3" x2="154.3" y1="387.5" y2="491.5" stroke="#adadad" stroke-width="1.3"/>
<line x1="151.8" x2="154.3" y1="405" y2="405" stroke="#adadad" stroke-width="1"/>
<text x="151.0" y="409.4" text-anchor="end" font-size="11.9" >100</text>
<line x1="151.8" x2="154.3" y1="426.4" y2="426.4" stroke="#adadad" stroke-width="1"/>
<text x="151.0" y="431.0" text-anchor="end" font-size="11.9" >75</text>
<line x1="151.8" x2="154.3" y1="447.8" y2="447.8" stroke="#adadad" stroke-width="1"/>
<text x="151.0" y="452.4" text-anchor="end" font-size="11.9" >50</text>
<line x1="151.8" x2="154.3" y1="469.4" y2="469.4" stroke="#adadad" stroke-width="1"/>
<text x="151.0" y="474.2" text-anchor="end" font-size="11.9" >25</text>
<line x1="151.8" x2="154.3" y1="491.0" y2="491.0" stroke="#adadad" stroke-width="1"/>
<text x="151.0" y="495.2" text-anchor="end" font-size="11.9" >0</text>
<line x1="154.3" x2="419" y1="491.0" y2="491.0" stroke="#adadad" stroke-width="1.2"/>
<line x1="207.3" x2="207.3" y1="491.0" y2="494.2" stroke="#adadad" stroke-width="1"/>
<line x1="260" x2="260" y1="491.0" y2="494.2" stroke="#adadad" stroke-width="1"/>
<line x1="313" x2="313" y1="491.0" y2="494.2" stroke="#adadad" stroke-width="1"/>
<line x1="366" x2="366" y1="491.0" y2="494.2" stroke="#adadad" stroke-width="1"/>
<line x1="418.8" x2="418.8" y1="491.0" y2="494.2" stroke="#adadad" stroke-width="1"/>
<rect x="182" y="488" width="13.75" height="3.0" fill="#050505"/>
<path d="M188.875 488V486.75M187.075 487.15H190.675" stroke="#1a1a1a" stroke-width="1.1" fill="none"/>
<rect x="238" y="487.5" width="12.5" height="3.5" fill="#050505"/>
<path d="M244.25 487.5V484.25M242.45 484.65H246.05" stroke="#1a1a1a" stroke-width="1.1" fill="none"/>
<rect x="276.9" y="484.5" width="11.700000000000045" height="6.5" fill="#fff" stroke="#1a1a1a" stroke-width="1"/>
<path d="M282.75 484V481.4M280.95 481.79999999999995H284.55" stroke="#1a1a1a" stroke-width="1.1" fill="none"/>
<rect x="289.1" y="464.5" width="12.899999999999977" height="26.5" fill="#050505"/>
<path d="M295.55 464.5V456.3M293.75 456.7H297.35" stroke="#1a1a1a" stroke-width="1.1" fill="none"/>
<rect x="331.75" y="405.5" width="11.5" height="85.5" fill="#fff" stroke="#1a1a1a" stroke-width="1"/>
<path d="M337.5 405V392.5M335.7 392.9H339.3" stroke="#1a1a1a" stroke-width="1.1" fill="none"/>
<rect x="343.75" y="414.25" width="11.75" height="76.75" fill="#050505"/>
<path d="M349.625 414.25V395.5M347.825 395.9H351.425" stroke="#1a1a1a" stroke-width="1.1" fill="none"/>
<rect x="384.75" y="405.5" width="10.5" height="85.5" fill="#fff" stroke="#1a1a1a" stroke-width="1"/>
<path d="M390.0 405V396.75M388.2 397.15H391.8" stroke="#1a1a1a" stroke-width="1.1" fill="none"/>
<rect x="395.75" y="405" width="12.25" height="86.0" fill="#050505"/>
<path d="M401.875 405V389.5M400.075 389.9H403.675" stroke="#1a1a1a" stroke-width="1.1" fill="none"/>
<text x="182" y="513" text-anchor="middle" font-size="11.9" >0.1</text>
<text x="235.5" y="513" text-anchor="middle" font-size="11.9" >0.3</text>
<text x="287.5" y="513" text-anchor="middle" font-size="11.9" >1</text>
<text x="340" y="513" text-anchor="middle" font-size="11.9" >3</text>
<text x="392.75" y="513" text-anchor="middle" font-size="11.9" >10</text>
<text x="290" y="535" text-anchor="middle" font-size="11.9" >Epo concentration U/mL</text>
<rect x="175.4" y="388.7" width="10.9" height="12.1" fill="#050505"/>
<rect x="175.9" y="404.1" width="9.9" height="11.6" fill="#fff" stroke="#1a1a1a" stroke-width="1"/>
<text x="190.5" y="399.3" text-anchor="start" font-size="12" >Bone Marrow</text>
<text x="190.5" y="414.5" text-anchor="start" font-size="12" >Spleen</text>
<text transform="translate(130.4,437.3) rotate(-90)" text-anchor="middle" font-size="12">BFU-E (% Maximal)</text>
<circle cx="295.7" cy="449.5" r="1.9" fill="#8c8c8c"/>
</g>
</svg>
</body></html>
